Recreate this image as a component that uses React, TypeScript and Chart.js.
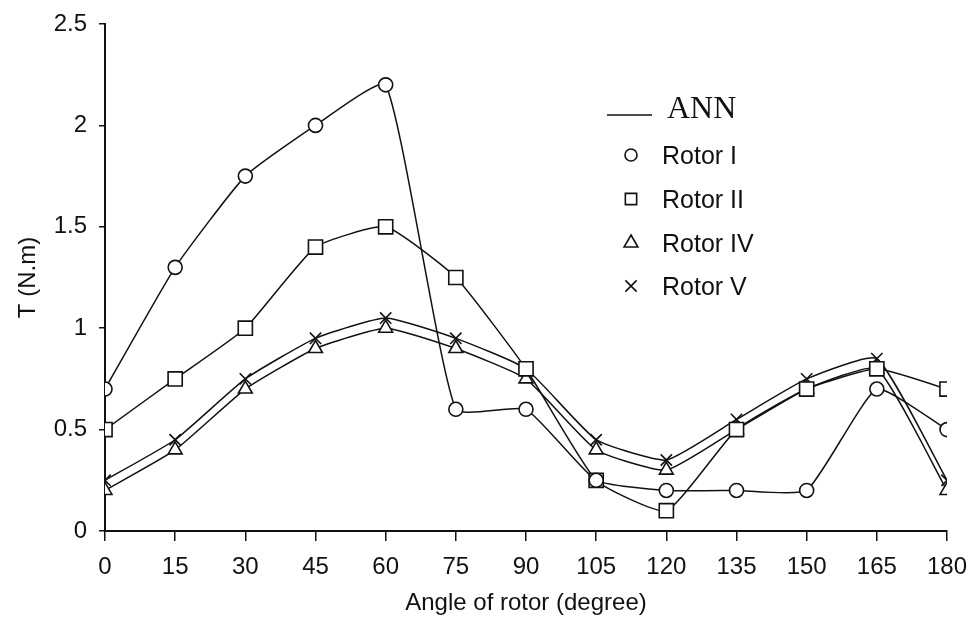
import React, { useEffect, useRef } from "react";
import { Chart, registerables } from "chart.js";

Chart.register(...registerables);

// Rotor angle (degree)
const angles = [0, 15, 30, 45, 60, 75, 90, 105, 120, 135, 150, 165, 180];

// Torque T (N.m) for each rotor
const rotorI = [0.7, 1.3, 1.75, 2.0, 2.2, 0.6, 0.6, 0.25, 0.2, 0.2, 0.2, 0.7, 0.5];
const rotorII = [0.5, 0.75, 1.0, 1.4, 1.5, 1.25, 0.8, 0.25, 0.1, 0.5, 0.7, 0.8, 0.7];
const rotorIV = [0.2, 0.4, 0.7, 0.9, 1.0, 0.9, 0.75, 0.4, 0.3, 0.5, 0.7, 0.8, 0.2];
const rotorV = [0.25, 0.45, 0.75, 0.95, 1.05, 0.95, 0.8, 0.45, 0.35, 0.55, 0.75, 0.85, 0.25];

// Y axis tick values and their printed labels
const yTickValues = [0, 0.5, 1, 1.5, 2, 2.5];
const yTickLabels = ["0", "0.5", "1", "1.5", "2", "2.5"];

const seriesNames = ["Rotor I", "Rotor II", "Rotor IV", "Rotor V"];
const seriesValues = [rotorI, rotorII, rotorIV, rotorV];
const markerStyles = ["circle", "rect", "triangle", "crossRot"];
const markerRadii = [7, 10, 8, 8];
const lineLabel = "ANN";

const SANS = '"Liberation Sans", Arial, sans-serif';
const SERIF = '"Liberation Serif", "Times New Roman", serif';
const INK = "#111";
const W = 971;
const H = 621;

function drawMarker(ctx: CanvasRenderingContext2D, style: string, x: number, y: number, r: number) {
  ctx.beginPath();
  if (style === "circle") {
    ctx.arc(x, y, r, 0, Math.PI * 2);
    ctx.fillStyle = "#fff";
    ctx.fill();
  } else if (style === "rect") {
    const s = Math.SQRT1_2 * r;
    ctx.rect(x - s, y - s, 2 * s, 2 * s);
    ctx.fillStyle = "#fff";
    ctx.fill();
  } else if (style === "triangle") {
    const sx = Math.sin(Math.PI / 3) * r;
    const sy = Math.cos(Math.PI / 3) * r;
    ctx.moveTo(x, y - r);
    ctx.lineTo(x + sx, y + sy);
    ctx.lineTo(x - sx, y + sy);
    ctx.closePath();
    ctx.fillStyle = "#fff";
    ctx.fill();
  } else {
    const o = Math.SQRT1_2 * r;
    ctx.moveTo(x - o, y - o);
    ctx.lineTo(x + o, y + o);
    ctx.moveTo(x + o, y - o);
    ctx.lineTo(x - o, y + o);
  }
  ctx.stroke();
}

// Legend drawn inside the plot area, upper right
const insideLegend = {
  id: "insideLegend",
  afterDraw(chart: any) {
    const ctx: CanvasRenderingContext2D = chart.ctx;
    ctx.save();
    ctx.strokeStyle = INK;
    ctx.lineWidth = 1.6;
    // ANN line entry
    ctx.beginPath();
    ctx.moveTo(607, 115);
    ctx.lineTo(652, 115);
    ctx.stroke();
    ctx.fillStyle = INK;
    ctx.font = `32px ${SERIF}`;
    ctx.textBaseline = "middle";
    ctx.textAlign = "left";
    ctx.fillText(lineLabel, 667, 110);
    const rows = [157, 201, 245, 288];
    seriesNames.forEach((name, i) => {
      ctx.lineWidth = 1.6;
      ctx.strokeStyle = INK;
      drawMarker(ctx, markerStyles[i], 631, rows[i] - 2, i === 0 ? 6 : 8);
      ctx.fillStyle = INK;
      ctx.font = `25px ${SANS}`;
      ctx.fillText(name, 662, rows[i]);
    });
    ctx.restore();
  },
};

export default function App() {
  const canvasRef = useRef<HTMLCanvasElement | null>(null);

  useEffect(() => {
    const canvas = canvasRef.current;
    if (!canvas) return;
    const datasets = seriesNames.map((name, i) => ({
      label: name,
      data: angles.map((a, j) => ({ x: a, y: seriesValues[i][j] })),
      borderColor: INK,
      borderWidth: 1.5,
      backgroundColor: "#fff",
      pointStyle: markerStyles[i],
      pointRadius: markerRadii[i],
      pointBorderColor: INK,
      pointBackgroundColor: "#fff",
      pointBorderWidth: 1.6,
      tension: 0.15,
      fill: false,
    }));

    const chart = new Chart(canvas, {
      type: "line",
      data: { datasets },
      plugins: [insideLegend],
      options: {
        animation: false,
        responsive: false,
        devicePixelRatio: 1,
        layout: { padding: { top: 24, right: 24, left: 8, bottom: 0 } },
        plugins: { legend: { display: false }, tooltip: { enabled: false } },
        scales: {
          x: {
            type: "linear",
            min: 0,
            max: 180,
            afterFit(scale: any) {
              scale.height = 90;
              scale.paddingLeft = 0;
              scale.paddingRight = 0;
            },
            ticks: {
              stepSize: 15,
              color: INK,
              font: { family: SANS, size: 24 },
              padding: 12,
              maxRotation: 0,
            },
            grid: {
              display: true,
              drawOnChartArea: false,
              drawTicks: true,
              tickLength: 10,
              color: INK,
              lineWidth: 1.5,
            },
            border: { display: true, color: INK, width: 2 },
            title: {
              display: true,
              text: "Angle of rotor (degree)",
              color: INK,
              font: { family: SANS, size: 24 },
              padding: { top: 0, bottom: 3 },
            },
          },
          y: {
            type: "linear",
            min: 0,
            max: 2.5,
            afterFit(scale: any) {
              scale.width = 97;
              scale.paddingTop = 0;
              scale.paddingBottom = 0;
            },
            ticks: {
              stepSize: 0.5,
              color: INK,
              font: { family: SANS, size: 24 },
              padding: 12,
              callback: (value: any) => {
                const k = yTickValues.indexOf(Number(value));
                return k >= 0 ? yTickLabels[k] : "";
              },
            },
            grid: {
              display: true,
              drawOnChartArea: false,
              drawTicks: true,
              tickLength: 6,
              color: INK,
              lineWidth: 1.5,
            },
            border: { display: true, color: INK, width: 2 },
            title: {
              display: true,
              text: "T (N.m)",
              color: INK,
              font: { family: SANS, size: 24 },
              padding: { top: 6, bottom: 0 },
            },
          },
        },
      },
    });
    return () => chart.destroy();
  }, []);

  return (
    <div style={{ position: "fixed", left: 0, top: 0, width: W, height: H, background: "#fff" }}>
      <canvas ref={canvasRef} width={W} height={H} style={{ display: "block" }} />
    </div>
  );
}
